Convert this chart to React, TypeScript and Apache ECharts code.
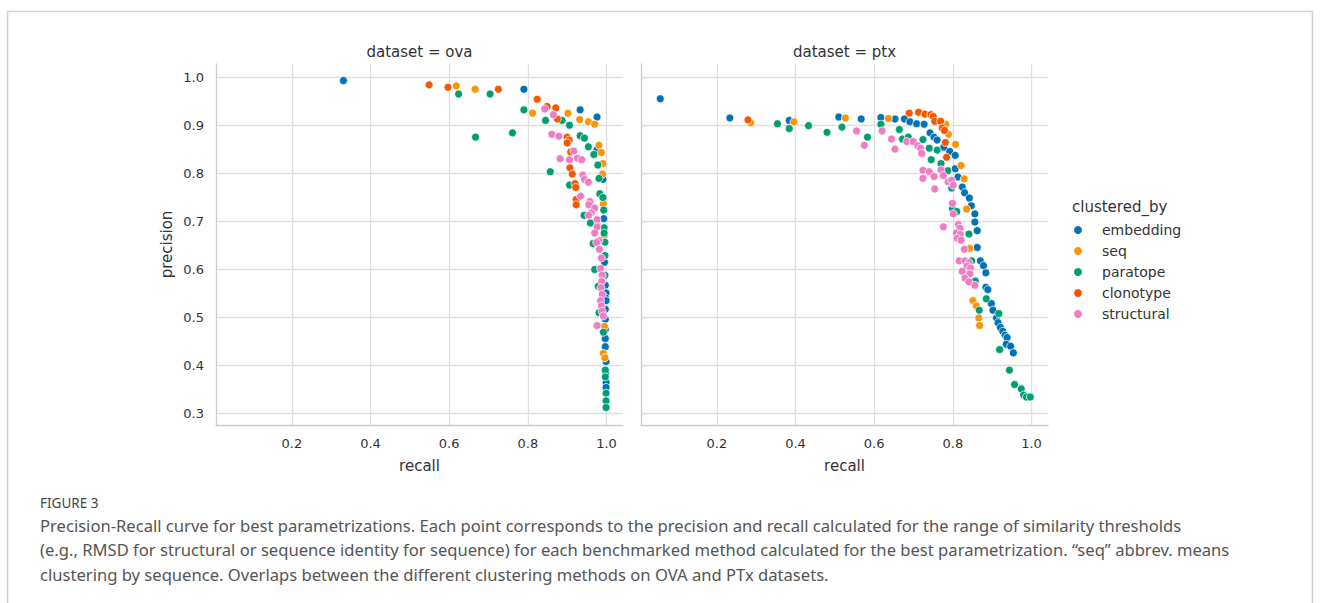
import React, { useEffect, useRef } from "react";
import * as echarts from "echarts";

// ---------- data (recall, precision) ----------
const seriesNames = ["embedding", "seq", "paratope", "clonotype", "structural"];
const seriesColors = ["#0173B2", "#F7960C", "#029E73", "#F25A00", "#EE7DC8"];
const panelTitles = ["dataset = ova", "dataset = ptx"];
const xTickValues = [0.2, 0.4, 0.6, 0.8, 1.0];
const yTickValues = [0.3, 0.4, 0.5, 0.6, 0.7, 0.8, 0.9, 1.0];

const ovaEmbedding = [
  [0.331, 0.994], [0.79, 0.976], [0.933, 0.933], [0.976, 0.918], [0.976, 0.85], [0.991, 0.788],
  [0.993, 0.706], [0.995, 0.615], [0.997, 0.567], [0.999, 0.551], [0.997, 0.541], [0.999, 0.535],
  [0.997, 0.517], [0.997, 0.496], [0.997, 0.475], [0.997, 0.456], [0.997, 0.439], [0.999, 0.408],
  [0.998, 0.385], [0.999, 0.364], [0.999, 0.354],
];
const ovaSeq = [
  [0.618, 0.983], [0.666, 0.976], [0.812, 0.926], [0.902, 0.926], [0.932, 0.913], [0.954, 0.908],
  [0.97, 0.903], [0.981, 0.859], [0.987, 0.844], [0.991, 0.821], [0.99, 0.799], [0.992, 0.737],
  [0.994, 0.671], [0.995, 0.481], [0.992, 0.425], [0.996, 0.416],
];
const ovaParatope = [
  [0.624, 0.966], [0.704, 0.966], [0.79, 0.933], [0.845, 0.911], [0.887, 0.911], [0.906, 0.901],
  [0.667, 0.876], [0.761, 0.885], [0.933, 0.879], [0.944, 0.874], [0.954, 0.856], [0.968, 0.84],
  [0.857, 0.804], [0.978, 0.818], [0.981, 0.79], [0.906, 0.776], [0.983, 0.758], [0.991, 0.75],
  [0.993, 0.724], [0.943, 0.713], [0.959, 0.697], [0.994, 0.687], [0.994, 0.676], [0.966, 0.654],
  [0.996, 0.657], [0.996, 0.629], [0.97, 0.6], [0.996, 0.588], [0.979, 0.565], [0.981, 0.51],
  [0.992, 0.469], [0.997, 0.39], [0.997, 0.376], [0.999, 0.342], [0.999, 0.326], [0.999, 0.312],
];
const ovaClonotype = [
  [0.549, 0.985], [0.597, 0.98], [0.725, 0.976], [0.824, 0.955], [0.849, 0.94], [0.871, 0.937],
  [0.875, 0.914], [0.9, 0.876], [0.905, 0.87], [0.9, 0.864], [0.909, 0.845], [0.907, 0.812],
  [0.913, 0.799], [0.92, 0.779], [0.922, 0.771], [0.923, 0.746], [0.923, 0.735],
];
const ovaStructural = [
  [0.843, 0.935], [0.865, 0.923], [0.861, 0.882], [0.879, 0.878], [0.917, 0.847], [0.882, 0.831],
  [0.906, 0.829], [0.926, 0.832], [0.937, 0.829], [0.94, 0.797], [0.944, 0.788], [0.954, 0.782],
  [0.934, 0.753], [0.958, 0.742], [0.955, 0.735], [0.97, 0.728], [0.961, 0.718], [0.955, 0.713],
  [0.976, 0.704], [0.976, 0.689], [0.97, 0.676], [0.981, 0.66], [0.975, 0.656], [0.982, 0.642],
  [0.987, 0.624], [0.985, 0.602], [0.989, 0.588], [0.988, 0.575], [0.986, 0.562], [0.989, 0.548],
  [0.985, 0.535], [0.987, 0.524], [0.989, 0.513], [0.992, 0.503], [0.976, 0.483],
];

const ptxEmbedding = [
  [0.056, 0.956], [0.233, 0.916], [0.384, 0.911], [0.51, 0.918], [0.567, 0.914], [0.617, 0.917],
  [0.653, 0.914], [0.677, 0.914], [0.691, 0.908], [0.708, 0.904], [0.727, 0.903], [0.742, 0.885],
  [0.752, 0.876], [0.76, 0.87], [0.777, 0.855], [0.792, 0.846], [0.806, 0.838], [0.806, 0.81],
  [0.813, 0.793], [0.824, 0.772], [0.83, 0.76], [0.842, 0.749], [0.847, 0.733], [0.856, 0.716],
  [0.856, 0.699], [0.862, 0.681], [0.862, 0.646], [0.87, 0.618], [0.878, 0.608], [0.884, 0.593],
  [0.884, 0.563], [0.889, 0.558], [0.898, 0.529], [0.902, 0.515], [0.911, 0.499], [0.915, 0.489],
  [0.921, 0.479], [0.927, 0.471], [0.933, 0.463], [0.938, 0.458], [0.936, 0.444], [0.947, 0.44],
  [0.954, 0.426],
];
const ptxSeq = [
  [0.286, 0.906], [0.396, 0.908], [0.527, 0.916], [0.636, 0.915], [0.782, 0.903], [0.789, 0.882],
  [0.807, 0.861], [0.821, 0.817], [0.829, 0.789], [0.835, 0.726], [0.843, 0.644], [0.851, 0.535],
  [0.86, 0.524], [0.866, 0.499], [0.868, 0.483],
];
const ptxParatope = [
  [0.354, 0.904], [0.384, 0.894], [0.433, 0.9], [0.48, 0.886], [0.518, 0.897], [0.583, 0.876],
  [0.617, 0.903], [0.664, 0.892], [0.672, 0.872], [0.687, 0.876], [0.724, 0.871], [0.74, 0.853],
  [0.76, 0.849], [0.745, 0.829], [0.77, 0.821], [0.787, 0.806], [0.797, 0.77], [0.799, 0.727],
  [0.81, 0.721], [0.841, 0.674], [0.848, 0.618], [0.857, 0.576], [0.885, 0.539], [0.867, 0.515],
  [0.917, 0.508], [0.919, 0.433], [0.944, 0.39], [0.957, 0.36], [0.974, 0.351], [0.98, 0.338],
  [0.987, 0.334], [0.997, 0.334],
];
const ptxClonotype = [
  [0.279, 0.912], [0.689, 0.926], [0.713, 0.928], [0.729, 0.924], [0.744, 0.923], [0.75, 0.919],
  [0.754, 0.909], [0.769, 0.909], [0.773, 0.895], [0.779, 0.89], [0.781, 0.865], [0.784, 0.834],
];
const ptxStructural = [
  [0.555, 0.889], [0.575, 0.859], [0.62, 0.889], [0.644, 0.872], [0.653, 0.851], [0.683, 0.867],
  [0.699, 0.867], [0.711, 0.858], [0.718, 0.853], [0.721, 0.842], [0.724, 0.807], [0.74, 0.804],
  [0.724, 0.79], [0.752, 0.794], [0.77, 0.808], [0.754, 0.768], [0.776, 0.796], [0.788, 0.783],
  [0.797, 0.786], [0.801, 0.776], [0.799, 0.738], [0.801, 0.716], [0.776, 0.689], [0.814, 0.694],
  [0.818, 0.686], [0.809, 0.676], [0.819, 0.673], [0.811, 0.665], [0.821, 0.661], [0.829, 0.642],
  [0.816, 0.618], [0.831, 0.618], [0.841, 0.614], [0.836, 0.607], [0.845, 0.603], [0.824, 0.596],
  [0.843, 0.591], [0.831, 0.582], [0.841, 0.574], [0.856, 0.567],
];

const ovaData = [ovaEmbedding, ovaSeq, ovaParatope, ovaClonotype, ovaStructural];
const ptxData = [ptxEmbedding, ptxSeq, ptxParatope, ptxClonotype, ptxStructural];

const captionLabel = "FIGURE 3";
const captionLines = [
  "Precision-Recall curve for best parametrizations. Each point corresponds to the precision and recall calculated for the range of similarity thresholds",
  "(e.g., RMSD for structural or sequence identity for sequence) for each benchmarked method calculated for the best parametrization. \u201cseq\u201d abbrev. means",
  "clustering by sequence. Overlaps between the different clustering methods on OVA and PTx datasets.",
];

const X_MIN = 0.007;
const X_MAX = 1.042;
const Y_MIN = 0.2756;
const Y_MAX = 1.0286;

const FONT = "DejaVu Sans";
const TXT = "#333333";

function isTick(v: number, list: number[]) {
  return list.some((t) => Math.abs(t - v) < 1e-6);
}

export default function App() {
  const ref = useRef<HTMLDivElement>(null);
  useEffect(() => {
    if (!ref.current) return;
    const chart = echarts.init(ref.current, undefined, { renderer: "svg" });
    const grids = [
      { left: 216, top: 64, width: 407, height: 361 },
      { left: 641, top: 64, width: 407, height: 361 },
    ];
    const xAxes = grids.map((_, i) => ({
      type: "value",
      gridIndex: i,
      min: X_MIN,
      max: X_MAX,
      splitNumber: 5,
      name: "recall",
      nameLocation: "middle",
      nameGap: 33,
      nameTextStyle: { fontFamily: FONT, fontSize: 15, color: TXT },
      axisLine: { show: true, lineStyle: { color: "#cccccc", width: 1.3 } },
      axisTick: { show: false },
      axisLabel: {
        margin: 12,
        fontFamily: FONT,
        fontSize: 13,
        color: TXT,
        formatter: (v: number) => (isTick(v, xTickValues) ? v.toFixed(1) : ""),
      },
      splitLine: { show: true, showMinLine: false, showMaxLine: false, lineStyle: { color: "#dedede", width: 1.3 } },
    }));
    const yAxes = grids.map((_, i) => ({
      type: "value",
      gridIndex: i,
      min: Y_MIN,
      max: Y_MAX,
      splitNumber: 7,
      name: i === 0 ? "precision" : "",
      nameLocation: "middle",
      nameGap: 42,
      nameTextStyle: { fontFamily: FONT, fontSize: 15, color: TXT },
      axisLine: { show: true, lineStyle: { color: "#cccccc", width: 1.3 } },
      axisTick: { show: false },
      axisLabel: {
        show: i === 0,
        margin: 12,
        fontFamily: FONT,
        fontSize: 13,
        color: TXT,
        formatter: (v: number) => (isTick(v, yTickValues) ? v.toFixed(1) : ""),
      },
      splitLine: { show: true, showMinLine: false, showMaxLine: false, lineStyle: { color: "#dedede", width: 1.3 } },
    }));

    const series: any[] = [];
    [ovaData, ptxData].forEach((panel, p) => {
      panel.forEach((pts, k) => {
        series.push({
          type: "scatter",
          name: seriesNames[k],
          xAxisIndex: p,
          yAxisIndex: p,
          data: pts,
          symbol: "circle",
          symbolSize: 8,
          itemStyle: { color: seriesColors[k], borderColor: "#ffffff", borderWidth: 0.7, opacity: 1 },
          emphasis: { disabled: true },
        });
      });
    });

    const graphics: any[] = [
      {
        type: "rect",
        shape: { x: 7.5, y: 11.5, width: 1305, height: 700 },
        style: { fill: "none", stroke: "#d0d0d0", lineWidth: 1.5 },
        silent: true,
      },
      ...panelTitles.map((t, i) => ({
        type: "text",
        x: grids[i].left + grids[i].width / 2,
        y: 52,
        style: { text: t, font: `15px "${FONT}"`, fill: TXT, align: "center", verticalAlign: "middle", textAlign: "center", textVerticalAlign: "middle" },
      })),
      {
        type: "text",
        x: 1072,
        y: 207,
        style: { text: "clustered_by", font: `15px "${FONT}"`, fill: TXT, align: "left", verticalAlign: "middle", textAlign: "left", textVerticalAlign: "middle" },
      },
      {
        type: "text",
        x: 40,
        y: 503,
        style: { text: captionLabel, font: `13.5px "Noto Sans"`, fill: "#444444", align: "left", verticalAlign: "middle", textAlign: "left", textVerticalAlign: "middle" },
      },
      ...captionLines.map((t, i) => ({
        type: "text",
        x: 40,
        y: 525 + i * 24.5,
        style: { text: t, font: `16.6px "Noto Sans"`, fill: "#555555", align: "left", verticalAlign: "middle", textAlign: "left", textVerticalAlign: "middle" },
      })),
    ];

    chart.setOption({
      animation: false,
      backgroundColor: "#ffffff",
      grid: grids,
      xAxis: xAxes,
      yAxis: yAxes,
      legend: {
        show: true,
        orient: "vertical",
        left: 1072,
        top: 223,
        padding: 0,
        itemWidth: 10,
        itemHeight: 10,
        itemGap: 7,
        icon: "circle",
        data: seriesNames,
        textStyle: { fontFamily: FONT, fontSize: 14, color: TXT, lineHeight: 14, padding: [0, 0, 0, 14] },
        selectedMode: false,
      },
      series,
      graphic: graphics,
    });
    return () => chart.dispose();
  }, []);
  return (
    <div
      ref={ref}
      style={{ position: "fixed", left: 0, top: 0, width: 1320, height: 603, background: "#fff" }}
    />
  );
}
